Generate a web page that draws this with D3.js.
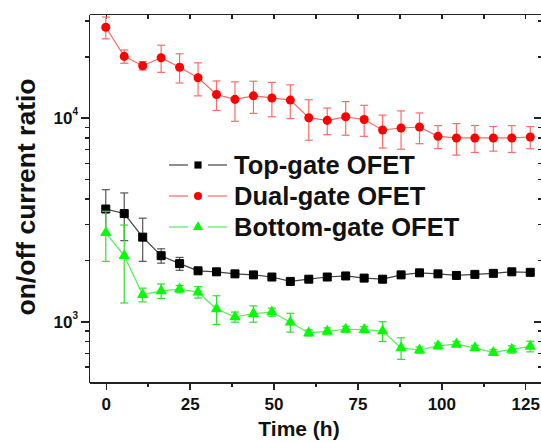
<!DOCTYPE html>
<html lang="en">
<head>
<meta charset="utf-8">
<title>on/off current ratio vs time</title>
<style>
body { margin: 0; background: #fff; }
text { font-family: "Liberation Sans", Arial, sans-serif; font-weight: bold; }
.axis path, .axis line { stroke: #222; stroke-width: 1.5; shape-rendering: crispEdges; }
</style>
</head>
<body>
<div id="chart"></div>
<script src="https://d3js.org/d3.v7.min.js"></script>
<script>
// time points (h)
var times = [0, 5.5, 11, 16.5, 22, 27.5, 33, 38.5, 44, 49.5, 55, 60.5, 66, 71.5, 77, 82.5, 88, 93.5, 99, 104.5, 110, 115.5, 121, 126.5];

var topGate = [3560, 3380, 2590, 2100, 1920, 1770, 1750, 1710, 1690, 1650, 1570, 1610, 1650, 1670, 1630, 1610, 1690, 1730, 1710, 1680, 1700, 1720, 1750, 1740];
var topGateErr = [870, 890, 620, 170, 140, 30, 30, 30, 30, 30, 30, 30, 30, 30, 30, 30, 30, 30, 30, 30, 30, 30, 30, 30];

var dualGate = [27800, 20000, 18000, 19700, 17700, 15700, 13000, 12300, 12800, 12500, 12200, 10000, 9700, 10100, 9800, 8700, 8900, 9000, 8100, 7950, 7950, 7950, 7950, 8040];
var dualGateErr = [3400, 1500, 850, 3000, 2900, 2900, 2150, 2700, 2300, 2400, 2300, 2250, 1450, 1900, 1700, 1600, 1900, 1550, 1050, 1400, 1200, 1100, 1200, 1000];

var bottomGate = [2720, 2100, 1350, 1410, 1440, 1390, 1150, 1050, 1090, 1110, 990, 877, 893, 914, 910, 896, 740, 723, 757, 772, 740, 702, 728, 753];
var bottomGateErr = [750, 870, 105, 115, 60, 90, 185, 60, 100, 50, 105, 30, 35, 30, 30, 100, 90, 25, 25, 25, 22, 22, 30, 45];

var seriesNames = ["Top-gate OFET", "Dual-gate OFET", "Bottom-gate OFET"];
var xTicks = [0, 25, 50, 75, 100, 125];

var W = 541, H = 442;
var pL = 89, pR = 542, pT = 14, pB = 382.6;

var svg = d3.select("#chart").append("svg")
  .attr("width", W)
  .attr("height", H);

var x = d3.scaleLinear().domain([-5, 130]).range([pL, pR]);
var y = d3.scaleLog().domain([500, 32300]).range([pB, pT]);

var majorY = [1000, 10000];
var minorY = [600, 700, 800, 900, 2000, 3000, 4000, 5000, 6000, 7000, 8000, 9000, 20000, 30000];
var minorX = [12.5, 37.5, 62.5, 87.5, 112.5];

// bottom axis
svg.append("g").attr("class", "axis")
  .attr("transform", "translate(0," + pB + ")")
  .call(d3.axisBottom(x).tickValues(xTicks).tickSize(7).tickSizeOuter(0))
  .selectAll("text").attr("font-size", "17px").attr("fill", "#111").attr("dy", "1.05em");
svg.append("g").attr("class", "axis")
  .attr("transform", "translate(0," + pB + ")")
  .call(d3.axisBottom(x).tickValues(minorX).tickSize(4).tickFormat("").tickSizeOuter(0));

// top axis
svg.append("g").attr("class", "axis")
  .attr("transform", "translate(0," + pT + ")")
  .call(d3.axisBottom(x).tickValues(xTicks.concat(minorX)).tickSize(5).tickFormat("").tickSizeOuter(0));

// left axis
var yl = svg.append("g").attr("class", "axis")
  .attr("transform", "translate(" + pL + ",0)")
  .call(d3.axisLeft(y).tickValues(majorY).tickSize(8).tickSizeOuter(0).tickFormat(""));
yl.selectAll(".tick text").remove();
yl.selectAll(".tick").append("text")
  .attr("x", -11)
  .attr("y", 6)
  .attr("text-anchor", "end")
  .attr("fill", "#111")
  .attr("font-size", "17px")
  .each(function(d) {
    var t = d3.select(this);
    t.append("tspan").text("10");
    t.append("tspan").attr("font-size", "10px").attr("dy", "-9").text(Math.round(Math.log10(d)));
  });
svg.append("g").attr("class", "axis")
  .attr("transform", "translate(" + pL + ",0)")
  .call(d3.axisLeft(y).tickValues(minorY).tickSize(4).tickFormat("").tickSizeOuter(0));

// right axis
svg.append("g").attr("class", "axis")
  .attr("transform", "translate(" + pR + ",0)")
  .call(d3.axisRight(y).tickValues(majorY).tickSize(-8).tickFormat("").tickSizeOuter(0));
svg.append("g").attr("class", "axis")
  .attr("transform", "translate(" + pR + ",0)")
  .call(d3.axisRight(y).tickValues(minorY).tickSize(-4).tickFormat("").tickSizeOuter(0));

// axis titles
svg.append("text")
  .attr("x", 299)
  .attr("y", 436)
  .attr("text-anchor", "middle")
  .attr("font-size", "21px")
  .attr("fill", "#111")
  .text("Time (h)");

svg.append("text")
  .attr("transform", "translate(35," + 197 + ") rotate(-90)")
  .attr("text-anchor", "middle")
  .attr("font-size", "26.5px")
  .attr("fill", "#111")
  .text("on/off current ratio");

var series = [
  { vals: topGate, errs: topGateErr, line: "#444", err: "#555", fill: "#000", shape: d3.symbolSquare, size: 64 },
  { vals: dualGate, errs: dualGateErr, line: "#ff6666", err: "#ff6a6a", fill: "#ff0000", shape: d3.symbolCircle, size: 64 },
  { vals: bottomGate, errs: bottomGateErr, line: "#55ee55", err: "#33dd33", fill: "#00ff00", shape: d3.symbolTriangle, size: 56 }
];

var line = d3.line()
  .x(function(d, i) { return x(times[i]); })
  .y(function(d) { return y(d); });

// draw in order: black, green, red
[0, 2, 1].forEach(function(k) {
  var s = series[k];
  var g = svg.append("g");
  g.append("path")
    .attr("d", line(s.vals))
    .attr("fill", "none")
    .attr("stroke", s.line)
    .attr("stroke-width", 1.2);

  var eb = g.selectAll(".eb").data(s.vals).enter().append("g");
  eb.append("line")
    .attr("x1", function(d, i) { return x(times[i]); })
    .attr("x2", function(d, i) { return x(times[i]); })
    .attr("y1", function(d, i) { return y(d + s.errs[i]); })
    .attr("y2", function(d, i) { return y(d - s.errs[i]); })
    .attr("stroke", s.err).attr("stroke-width", 1.2);
  [1, -1].forEach(function(sign) {
    eb.append("line")
      .attr("x1", function(d, i) { return x(times[i]) - 4; })
      .attr("x2", function(d, i) { return x(times[i]) + 4; })
      .attr("y1", function(d, i) { return y(d + sign * s.errs[i]); })
      .attr("y2", function(d, i) { return y(d + sign * s.errs[i]); })
      .attr("stroke", s.err).attr("stroke-width", 1.2);
  });

  g.selectAll(".pt").data(s.vals).enter().append("path")
    .attr("d", d3.symbol().type(s.shape).size(s.size))
    .attr("transform", function(d, i) { return "translate(" + x(times[i]) + "," + y(d) + ")"; })
    .attr("fill", s.fill)
    .attr("stroke", k === 0 ? "#000" : "none");
});

// legend
var legend = svg.append("g");
var rowY = [165, 196, 227];
series.forEach(function(s, k) {
  var r = legend.append("g").attr("transform", "translate(0," + rowY[k] + ")");
  r.append("line").attr("x1", 169).attr("x2", 188).attr("stroke", s.line).attr("stroke-width", 1.2);
  r.append("line").attr("x1", 208).attr("x2", 227).attr("stroke", s.line).attr("stroke-width", 1.2);
  r.append("path")
    .attr("d", d3.symbol().type(s.shape).size(s.size * 0.8))
    .attr("transform", "translate(198,0)")
    .attr("fill", s.fill);
  r.append("text")
    .attr("x", 234)
    .attr("y", 8.5)
    .attr("font-size", "25.5px")
    .attr("fill", "#111")
    .text(seriesNames[k]);
});
</script>
</body>
</html>
